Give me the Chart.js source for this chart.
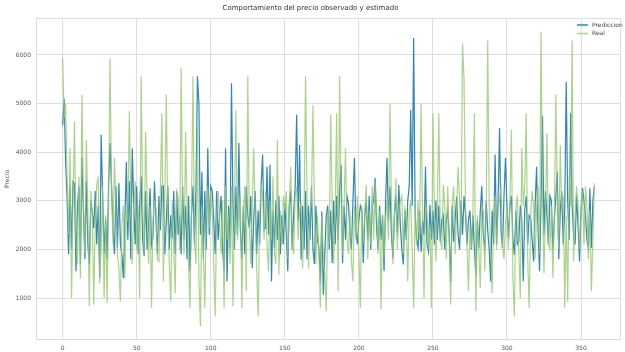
<!DOCTYPE html>
<html lang="es">
<head>
    <meta charset="UTF-8">
    <title>Comportamiento del precio observado y estimado</title>
    <style>
        * { margin: 0; padding: 0; box-sizing: border-box; }
        body { background: #fff; width: 625px; height: 352px; overflow: hidden; }
        .chart-box { position: relative; width: 625px; height: 352px; }
    </style>
    <script src="https://cdn.jsdelivr.net/npm/chart.js"></script>
</head>
<body>
    <div class="chart-box">
        <canvas id="priceChart"></canvas>
    </div>

    <script>
        // Serie estimada (Prediccion), un valor por observacion
        const prediccion = [
            4550, 5100, 3800, 3050, 1900, 3300, 2000, 3400, 3360, 1550,
            2900, 3300, 1690, 3880, 2800, 1800, 3400, 2100, 1700, 3000,
            2780, 2440, 3200, 2100, 2900, 1410, 4360, 3100, 1900, 2640,
            1800, 3300, 4190, 3330, 2400, 1900, 3300, 2030, 3360, 2100,
            1890, 1410, 2600, 3800, 2200, 3400, 1800, 4080, 2900, 2100,
            3300, 1900, 2900, 3500, 2200, 1860, 3200, 2000, 2440, 3260,
            2100, 2270, 3400, 2600, 1900, 3100, 2400, 3300, 3300, 1900,
            2600, 3300, 2000, 2700, 2230, 3200, 1900, 3190, 2300, 2710,
            1900, 3300, 2200, 2900, 1800, 3100, 1550, 2700, 3300, 2100,
            3200, 5560, 5000, 2300, 3600, 1800, 3200, 2000, 4080, 2300,
            3300, 3200, 2610, 1900, 3200, 2200, 2700, 3100, 2000, 1550,
            4080, 1340, 2900, 2030, 5420, 2900, 2000, 3300, 2300, 4190,
            2400, 1800, 2900, 1900, 3300, 2700, 2440, 3100, 1620, 2600,
            3200, 1900, 2800, 2100, 3300, 3950, 2400, 2440, 3700, 2300,
            3740, 1340, 2800, 2030, 3000, 2200, 3100, 1900, 2700, 2100,
            2950, 2300, 1550, 2900, 3200, 2000, 2800, 3300, 4770, 2600,
            4150, 1790, 2900, 2000, 3200, 1800, 2900, 2200, 3300, 2000,
            1700, 2900, 2200, 2030, 1340, 2780, 1070, 1900, 2700, 2900,
            2000, 2800, 1720, 3000, 2100, 3100, 2200, 3200, 3740, 1720,
            2900, 2200, 3100, 2950, 2300, 2000, 3000, 3880, 2400, 2100,
            2600, 2900, 2800, 1720, 2700, 3000, 2200, 3100, 2000, 2900,
            3000, 3470, 2400, 2000, 2900, 2200, 2700, 1550, 2900, 3880,
            2600, 3300, 2300, 1820, 2700, 3100, 2300, 3330, 2500, 2000,
            1690, 2800, 2200, 3000, 3300, 4870, 2900, 6350, 2710, 2200,
            2030, 2800, 1950, 2600, 2300, 3700, 2100, 1950, 2920, 2200,
            2800, 2100, 3000, 2200, 2900, 2160, 2610, 2700, 2000, 2600,
            2800, 2300, 1340, 2900, 2160, 2600, 3090, 2300, 2000, 3000,
            2300, 3100, 2710, 2100, 2610, 2800, 2000, 2700, 2000, 1480,
            2600, 2030, 2800, 3300, 2300, 2000, 3000, 2400, 2000, 1340,
            2800, 2100, 3950, 2100, 3000, 4500, 2400, 2030, 3100, 3880,
            2900, 2230, 2900, 3100, 2200, 1890, 2800, 2100, 2160, 2900,
            2600, 1340, 2800, 3100, 2100, 2700, 2640, 2200, 1750, 2900,
            3700, 2400, 1550, 3000, 4750, 2300, 3200, 2700, 2100, 3100,
            3000, 2000, 2600, 3100, 3600, 1800, 2800, 3200, 2100, 2800,
            5450, 3000, 2200, 4800, 2900, 2300, 2100, 3120, 2500, 1750,
            2800, 3260, 3000, 2700, 2200, 2030, 3260, 2030, 3000, 3300
        ];

        // Serie observada (Real)
        const real = [
            5930, 4700, 5000, 3500, 2300, 4080, 1000, 3000, 4630, 2200,
            1700, 3500, 1400, 5180, 3000, 1900, 4250, 2800, 830, 3200,
            2700, 860, 2600, 3300, 3500, 1300, 2000, 3300, 1000, 2700,
            900, 2900, 5930, 3300, 2100, 3880, 2800, 1900, 1600, 930,
            2500, 2900, 1400, 2800, 2580, 4840, 3000, 1700, 2800, 3400,
            2000, 2900, 1000, 5560, 3000, 1900, 4420, 3100, 1700, 2900,
            800, 2600, 3000, 2850, 1800, 1750, 3300, 4800, 1340, 3200,
            5180, 2600, 1700, 930, 3000, 2000, 1100, 3200, 3100, 2000,
            5730, 2700, 1900, 4420, 2800, 1700, 800, 3000, 5560, 2200,
            1700, 4500, 1400, 420, 2900, 2000, 800, 3000, 3300, 2440,
            3200, 2700, 1700, 620, 2700, 3200, 2500, 1900, 3000, 800,
            3300, 2200, 2700, 1700, 3300, 830, 2900, 4870, 2200, 2800,
            3100, 800, 2800, 3300, 1140, 5560, 2600, 1700, 2900, 4080,
            2800, 1600, 620, 2700, 3330, 3100, 2200, 3200, 2100, 1550,
            3000, 2200, 3500, 1900, 1700, 4250, 1480, 2800, 2100, 3100,
            2800, 3200, 1800, 2900, 3700, 2100, 1900, 3100, 3300, 2200,
            2800, 3000, 1600, 2700, 5560, 3100, 1600, 2700, 3000, 4970,
            2900, 1700, 2700, 2000, 800, 2700, 1900, 1500, 730, 2800,
            2100, 4770, 2900, 1700, 2800, 4800, 1140, 5560, 3000, 1900,
            2900, 4080, 2200, 1900, 2800, 1750, 1340, 2900, 2200, 3100,
            2000, 800, 2900, 2100, 2800, 3330, 1800, 2800, 2100, 3300,
            2200, 3400, 2900, 1900, 2800, 760, 2700, 1800, 2600, 3000,
            2200, 5000, 2900, 1700, 2700, 3470, 2000, 2800, 3000, 3100,
            1900, 2850, 2700, 1340, 2800, 3000, 2000, 800, 2800, 2100,
            3000, 2200, 5000, 2800, 1000, 2900, 2800, 2000, 2500, 800,
            4800, 2800, 1750, 2900, 4800, 2200, 2000, 3330, 2900, 1800,
            3300, 2200, 860, 2900, 3300, 1900, 2800, 3700, 3000, 2300,
            6240, 5520, 2900, 2100, 1140, 2500, 2030, 2800, 4800, 730,
            2700, 2000, 1200, 2900, 2800, 1550, 2800, 6300, 2900, 2000,
            1100, 2700, 3100, 2000, 2800, 3000, 3300, 2100, 1800, 2500,
            2900, 2000, 3000, 4460, 1410, 620, 2800, 3120, 2000, 1000,
            4080, 2900, 3330, 4800, 1800, 800, 2700, 3200, 2900, 1800,
            2800, 3300, 1900, 6480, 3000, 1510, 2800, 4390, 2100, 2000,
            2900, 1410, 2700, 5180, 2900, 2000, 4150, 2800, 3100, 800,
            2700, 930, 3500, 2900, 6300, 1750, 2700, 3300, 2900, 2000,
            2800, 3200, 2100, 3300, 2900, 1800, 2800, 1140, 2200, 3360
        ];

        // Marcas de los ejes
        const xTicks = [0, 50, 100, 150, 200, 250, 300, 350];
        const yTicks = [1000, 2000, 3000, 4000, 5000, 6000];

        const gridColor = '#dedede';
        const tickFont = { family: 'DejaVu Sans', size: 6 };

        // Convierte una serie en puntos {x: indice, y: valor}
        function toPoints(values) {
            return values.map((v, i) => ({ x: i, y: v }));
        }

        // Marco completo alrededor del area del grafico
        const framePlugin = {
            id: 'frame',
            beforeDatasetsDraw(chart) {
                const { ctx, chartArea: a } = chart;
                ctx.save();
                ctx.strokeStyle = gridColor;
                ctx.lineWidth = 1;
                ctx.strokeRect(a.left + 0.5, a.top + 0.5, a.right - a.left - 1, a.bottom - a.top - 1);
                ctx.restore();
            }
        };

        // Leyenda dentro del grafico, arriba a la derecha
        const legendPlugin = {
            id: 'insideLegend',
            afterDraw(chart) {
                const { ctx, chartArea: a } = chart;
                const items = chart.data.datasets.slice().sort((p, q) => q.order - p.order);
                ctx.save();
                ctx.font = '6px "DejaVu Sans"';
                ctx.textBaseline = 'middle';
                items.forEach((ds, k) => {
                    const y = a.top + 7 + k * 8.5;
                    const x = a.right - 44;
                    ctx.strokeStyle = ds.borderColor;
                    ctx.lineWidth = 1.5;
                    ctx.beginPath();
                    ctx.moveTo(x, y);
                    ctx.lineTo(x + 11, y);
                    ctx.stroke();
                    ctx.fillStyle = '#444';
                    ctx.fillText(ds.label, x + 15, y);
                });
                ctx.restore();
            }
        };

        const ctx = document.getElementById('priceChart').getContext('2d');
        const priceChart = new Chart(ctx, {
            type: 'line',
            data: {
                datasets: [
                    {
                        label: 'Prediccion',
                        data: toPoints(prediccion),
                        borderColor: '#2f86b9',
                        borderWidth: 1.2,
                        pointRadius: 0,
                        order: 1
                    },
                    {
                        label: 'Real',
                        data: toPoints(real),
                        borderColor: 'rgba(150, 200, 110, 0.8)',
                        borderWidth: 1.2,
                        pointRadius: 0,
                        order: 0
                    }
                ]
            },
            options: {
                responsive: true,
                maintainAspectRatio: false,
                animation: false,
                devicePixelRatio: 1,
                layout: { padding: { left: 0, right: 4, top: 0, bottom: 0 } },
                plugins: {
                    legend: { display: false },
                    tooltip: { enabled: false },
                    title: {
                        display: true,
                        text: 'Comportamiento del precio observado y estimado',
                        color: '#333',
                        font: { family: 'DejaVu Sans', size: 7, weight: 'normal' },
                        padding: { top: 4, bottom: 5.6 }
                    }
                },
                scales: {
                    x: {
                        type: 'linear',
                        min: -18,
                        max: 377,
                        afterBuildTicks: s => { s.ticks = xTicks.map(v => ({ value: v })); },
                        afterFit: s => { s.height = 12; },
                        grid: { color: gridColor, drawTicks: false },
                        border: { display: false },
                        ticks: { color: '#555', font: tickFont, padding: 5, maxRotation: 0, callback: v => String(v) }
                    },
                    y: {
                        min: 136,
                        max: 6761,
                        afterBuildTicks: s => { s.ticks = yTicks.map(v => ({ value: v })); },
                        afterFit: s => { s.width = 36; },
                        grid: { color: gridColor, drawTicks: false },
                        border: { display: false },
                        ticks: { color: '#555', font: tickFont, padding: 5, callback: v => String(v) },
                        title: {
                            display: true,
                            text: 'Precio',
                            color: '#555',
                            font: { family: 'DejaVu Sans', size: 6 },
                            padding: { top: 4, bottom: 0 }
                        }
                    }
                }
            },
            plugins: [framePlugin, legendPlugin]
        });
    </script>
</body>
</html>
